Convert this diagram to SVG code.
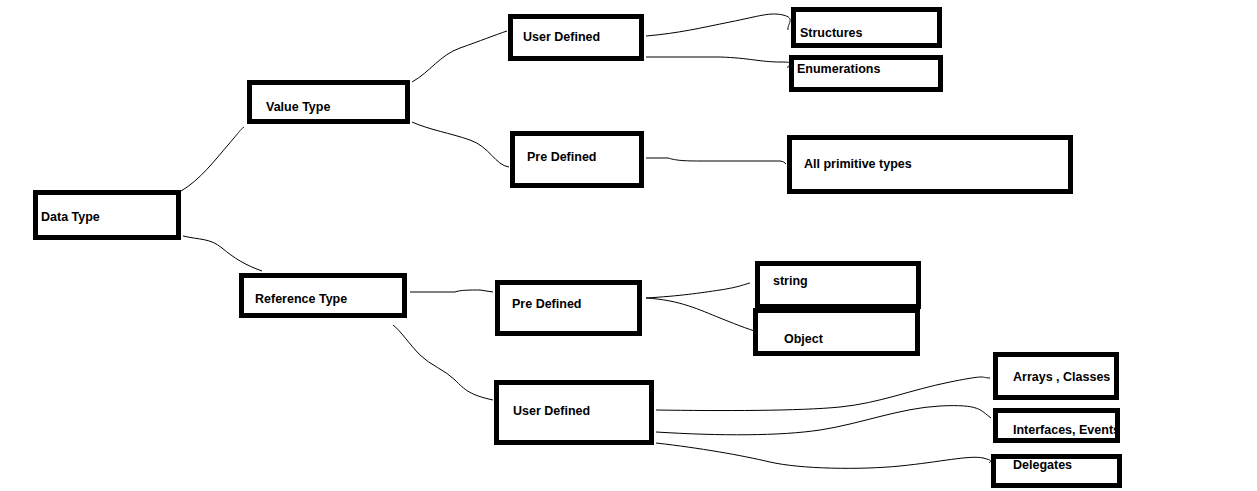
<svg xmlns="http://www.w3.org/2000/svg" width="1257" height="491" viewBox="0 0 1257 491">
<style>
.box{fill:#fff;stroke:#000;stroke-width:5}
.edge{fill:none;stroke:#000;stroke-width:5}
.lbl{font-family:"Liberation Sans",Arial,sans-serif;font-weight:bold;font-size:12.5px;fill:#000}
.con path{fill:none;stroke:#000;stroke-width:1}
</style>
<rect width="1257" height="491" fill="#fff"/>
<g id="connectors" class="con">
<path d="M181,191 C200,180 215,160 228,145 S240,130 244,127"/>
<path d="M183,236 C200,240 210,238 222,248 S245,265 262,271"/>
<path d="M412,82 C430,72 440,55 460,48 S495,35 507,31"/>
<path d="M412,122 C430,130 450,133 470,140 S495,165 509,167"/>
<path d="M646,36 C680,33 700,28 730,22 S770,12 783,15 S787,24 788,30"/>
<path d="M646,57 L720,57 C750,58 760,62 780,62 S786,65 788,68"/>
<path d="M646,158 L668,158 C675,160 680,161 700,161 L780,161 C783,161 785,163 786,164"/>
<path d="M410,292 L455,292 C460,290 470,290 480,290 L493,292"/>
<path d="M393,325 C400,330 410,345 420,355 S445,370 455,380 S470,395 493,400"/>
<path d="M646,298 C680,296 700,293 720,290 S745,284 750,283"/>
<path d="M646,298 C680,300 700,310 720,318 S750,330 765,334"/>
<path d="M656,410 C720,411 800,411 840,407 S910,390 950,382 S980,378 990,378"/>
<path d="M656,432 C720,436 780,436 820,430 S900,408 940,406 S980,410 991,418"/>
<path d="M656,443 C700,448 740,455 770,462 S860,470 900,466 S970,455 983,458 S988,462 990,463"/>
</g>
<g id="data-type"><rect class="box" x="35.5" y="192.5" width="143" height="45"/><text class="lbl" x="41" y="221">Data Type</text></g>
<g id="value-type"><rect class="box" x="249.5" y="82.5" width="158" height="39"/><text class="lbl" x="266" y="111">Value Type</text></g>
<g id="vt-user-defined"><rect class="box" x="510.5" y="16.5" width="131" height="42"/><text class="lbl" x="523" y="41">User Defined</text></g>
<g id="vt-pre-defined"><rect class="box" x="512.5" y="133.5" width="129" height="52"/><text class="lbl" x="527" y="161">Pre Defined</text></g>
<g id="structures"><rect class="box" x="793.5" y="9.5" width="146" height="36"/><text class="lbl" x="800" y="37">Structures</text></g>
<g id="enumerations"><rect class="box" x="791.5" y="57.5" width="149" height="32"/><text class="lbl" x="797" y="73">Enumerations</text></g>
<g id="all-primitive-types"><rect class="box" x="789.5" y="137.5" width="281" height="54"/><text class="lbl" x="804" y="168">All primitive types</text></g>
<g id="reference-type"><rect class="box" x="241.5" y="275.5" width="163" height="40"/><text class="lbl" x="255" y="303">Reference Type</text></g>
<g id="rt-pre-defined"><rect class="box" x="497.5" y="282.5" width="142" height="51"/><text class="lbl" x="512" y="308">Pre Defined</text></g>
<g id="string"><rect class="box" x="757.5" y="263.5" width="161" height="43"/><text class="lbl" x="773" y="285">string</text></g>
<g id="object"><rect class="box" x="755.5" y="310.5" width="162" height="43"/><text class="lbl" x="784" y="343">Object</text></g>
<g id="rt-user-defined"><rect class="box" x="496.5" y="382.5" width="155" height="60"/><text class="lbl" x="513" y="415">User Defined</text></g>
<g id="arrays-classes"><rect class="box" x="995.5" y="354.5" width="121" height="43"/><text class="lbl" x="1013" y="381">Arrays , Classes</text></g>
<g id="interfaces-events"><rect x="995.5" y="410.5" width="122" height="30" fill="#fff"/><text class="lbl" x="1013" y="434">Interfaces, Events</text><rect class="edge" x="995.5" y="410.5" width="122" height="30"/></g>
<g id="delegates"><rect class="box" x="993.5" y="456.5" width="126" height="29"/><text class="lbl" x="1013" y="469">Delegates</text></g>
</svg>
